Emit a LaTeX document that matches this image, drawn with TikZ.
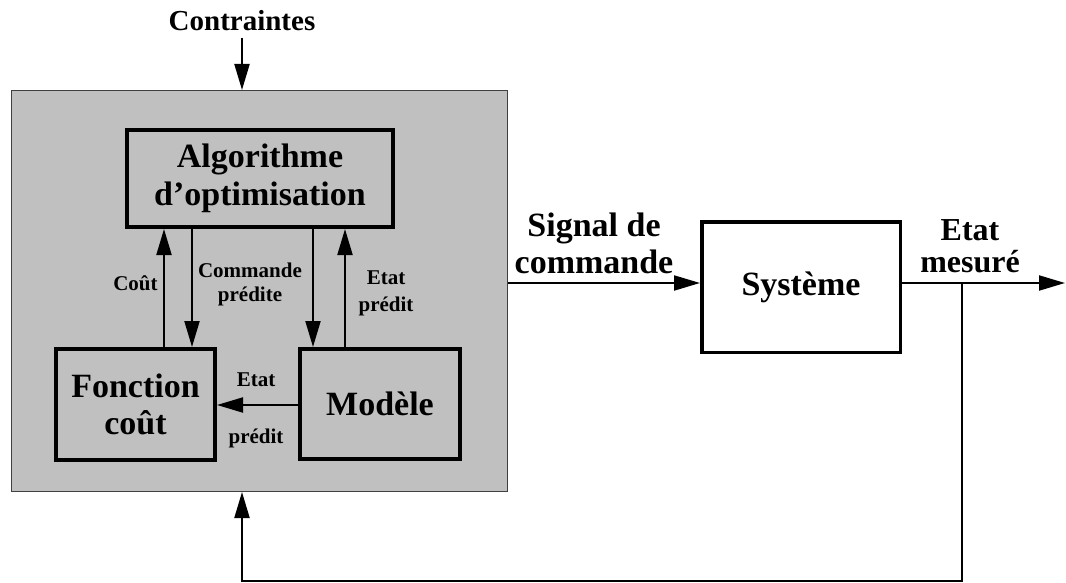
\documentclass[tikz,border=0pt]{standalone}
\usepackage{fontspec}
\setmainfont{Liberation Serif}
\usetikzlibrary{arrows.meta}
\definecolor{panel}{RGB}{192,192,192}
\definecolor{panelline}{RGB}{64,64,64}
\begin{document}
\begin{tikzpicture}[x=1pt,y=-1pt,
  box/.style={draw, line width=4pt, align=center, inner sep=0pt,
    font=\fontsize{34}{38}\selectfont\bfseries},
  lbl/.style={align=center, inner sep=0pt, font=\fontsize{21}{24}\selectfont\bfseries},
  biglbl/.style={align=center, inner sep=0pt, font=\fontsize{34}{37}\selectfont\bfseries},
  arr/.style={line width=2pt, -{Triangle[length=26pt,width=15pt]}},
  wire/.style={line width=2pt},
]
\useasboundingbox (0,0) rectangle (1066,583);

% panel
\node[draw=panelline, fill=panel, line width=1pt, minimum width=496pt, minimum height=401pt, inner sep=0pt] (big) at (259.5,291) {};

% boxes
\node[box, minimum width=266pt, minimum height=97pt] (algo) at (260,178.5) {Algorithme\\d'optimisation};
\node[box, minimum width=159pt, minimum height=111pt, font=\fontsize{34}{37}\selectfont\bfseries] (fonc) at (135.5,404.5) {Fonction\\coût};
\node[box, minimum width=160pt, minimum height=110pt] (mod) at (380,404) {Modèle};
\node[box, fill=white, line width=3.5pt, minimum width=198.5pt, minimum height=130.5pt] (sys) at (801,287) {Système};

% labels
\node[inner sep=0pt, font=\fontsize{29}{32}\selectfont\bfseries] (ctr) at (242,21) {Contraintes};
\node[lbl] (lcout) at (135.5,283) {Coût};
\node[lbl] (lcmd) at (250,284.5) {Commande\\prédite};
\node[lbl, font=\fontsize{21}{27}\selectfont\bfseries] (letat1) at (386,293.5) {Etat\\prédit};
\node[lbl, font=\fontsize{21}{57}\selectfont\bfseries] (letat2) at (256,410) {Etat\\prédit};
\node[biglbl] (lsig) at (594,243.5) {Signal de\\commande};
\node[biglbl, font=\fontsize{32}{32}\selectfont\bfseries] (lmes) at (970,246.5) {Etat\\mesuré};

% coordinates
\coordinate (sig) at (0,283);
\coordinate (tap) at (962,283);
\coordinate (out) at (1065,283);
\coordinate (fb) at (242,581);

% connectors
\draw[arr, shorten <=7pt] (ctr.south) -- (ctr.south |- big.north);
\draw[arr] (164,0 |- fonc.north) -- (164,0 |- algo.south);
\draw[arr] (192,0 |- algo.south) -- (192,0 |- fonc.north);
\draw[arr] (313,0 |- algo.south) -- (313,0 |- mod.north);
\draw[arr] (345,0 |- mod.north) -- (345,0 |- algo.south);
\draw[arr] (mod.west |- 0,405) -- (fonc.east |- 0,405);
\draw[arr] (big.east |- sig) -- (sys.west |- sig);
\draw[arr] (sys.east |- sig) -- (out);
\draw[arr] (tap) |- (fb) -- (fb |- big.south);
\end{tikzpicture}
\end{document}
